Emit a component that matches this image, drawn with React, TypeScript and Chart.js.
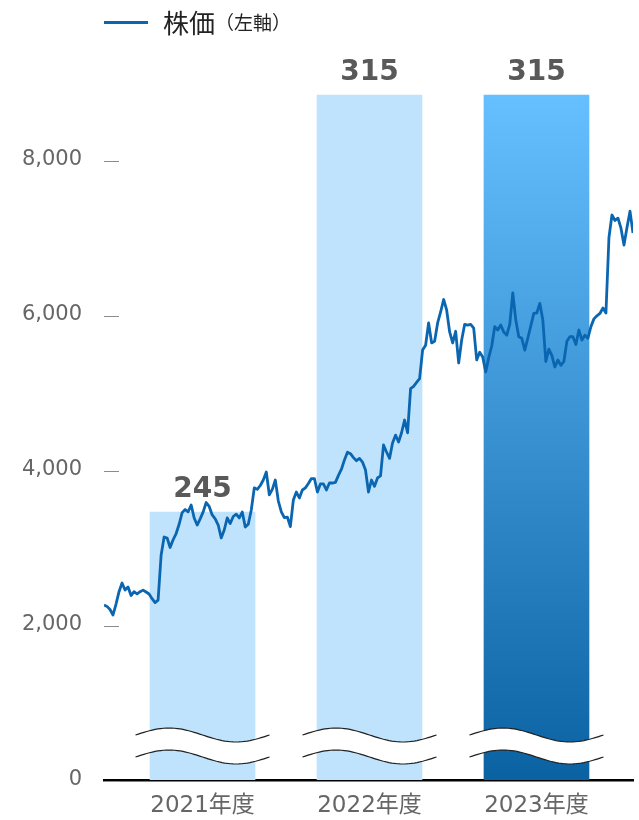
import React, { useEffect, useRef } from "react";
import { Chart, registerables } from "chart.js";

Chart.register(...registerables);

// ---------- data ----------
const fiscalYears = ["2021年度", "2022年度", "2023年度"];
const dividends = [245, 315, 315];
const priceTicks = [0, 2000, 4000, 6000, 8000];
const stockPrices = [
  2258, 2240, 2200, 2129, 2270, 2430, 2542, 2452, 2490, 2380,
  2430, 2400, 2430, 2450, 2426, 2400, 2340, 2290, 2320, 2900,
  3135, 3123, 3000, 3100, 3180, 3300, 3450, 3490, 3460, 3548,
  3381, 3290, 3370, 3460, 3580, 3530, 3420, 3370, 3290, 3123,
  3226, 3381, 3310, 3400, 3430, 3381, 3458, 3264, 3300, 3484,
  3770, 3750, 3800, 3871, 3974, 3680, 3750, 3871, 3600, 3460,
  3385, 3393, 3270, 3613, 3716, 3639, 3742, 3770, 3825, 3890,
  3890, 3716, 3820, 3820, 3742, 3832, 3832, 3840, 3930, 4010,
  4130, 4230, 4210, 4160, 4120, 4150, 4103, 4000, 3716, 3871,
  3790, 3897, 3925, 4323, 4232, 4150, 4348, 4450, 4361, 4480,
  4645, 4480, 5050, 5080, 5130, 5180, 5548, 5610, 5897, 5640,
  5660, 5897, 6039, 6200, 6065, 5781, 5639, 5790, 5381, 5677,
  5880, 5870, 5880, 5832, 5420, 5520, 5458, 5265, 5450, 5600,
  5850, 5806, 5871, 5780, 5740, 5880, 6284, 5935, 5720, 5700,
  5548, 5700, 5860, 6020, 6026, 6150, 5935, 5400, 5560, 5480,
  5329, 5420, 5350, 5400, 5660, 5720, 5720, 5620, 5806, 5677,
  5740, 5700, 5850, 5950, 5990, 6020, 6090, 6026, 7000, 7290,
  7220, 7250, 7120, 6903, 7130, 7340, 7058,
];

// ---------- style ----------
const LINE_COLOR = "#0a66b0";
const BAR_LIGHT = "#bfe3fc";
const GRAD_TOP = "#66bfff";
const GRAD_BOTTOM = "#0a62a3";
const FONT = "'DejaVu Sans', 'Noto Sans CJK JP', sans-serif";

const tickDashPlugin = {
  id: "tickDash",
  beforeDatasetsDraw(chart: any) {
    const { ctx, chartArea, scales } = chart;
    const y = scales.y;
    ctx.save();
    ctx.strokeStyle = "#8c8c8c";
    ctx.lineWidth = 1;
    y.ticks.forEach((t: any) => {
      const py = Math.round(y.getPixelForValue(t.value)) + 1.5;
      ctx.beginPath();
      ctx.moveTo(chartArea.left, py);
      ctx.lineTo(chartArea.left + 15, py);
      ctx.stroke();
    });
    ctx.restore();
  },
};

const barDecorPlugin = {
  id: "barDecor",
  afterDatasetDraw(chart: any, args: any) {
    if (args.index !== 0) return;
    const { ctx, chartArea } = chart;
    const meta = args.meta;
    const bottom = chartArea.bottom;
    meta.data.forEach((el: any, i: number) => {
      const { x, y, width } = el.getProps(["x", "y", "width"], true);
      // break symbol
      const w = width + 29;
      const left = x - w / 2;
      const c1 = bottom - 45;
      const c2 = bottom - 23;
      const amp = 7;
      const N = 48;
      const wave = (c: number, t: number) => c - amp * Math.sin(2 * Math.PI * t);
      ctx.save();
      ctx.beginPath();
      for (let k = 0; k <= N; k++) {
        const t = k / N;
        const px = left + t * w;
        const py = wave(c1, t);
        if (k === 0) ctx.moveTo(px, py);
        else ctx.lineTo(px, py);
      }
      for (let k = N; k >= 0; k--) {
        const t = k / N;
        ctx.lineTo(left + t * w, wave(c2, t));
      }
      ctx.closePath();
      ctx.fillStyle = "#ffffff";
      ctx.fill();
      ctx.strokeStyle = "#222";
      ctx.lineWidth = 1.2;
      [c1, c2].forEach((c) => {
        ctx.beginPath();
        for (let k = 0; k <= N; k++) {
          const t = k / N;
          const px = left + t * w;
          const py = wave(c, t);
          if (k === 0) ctx.moveTo(px, py);
          else ctx.lineTo(px, py);
        }
        ctx.stroke();
      });
      // value label
      ctx.fillStyle = "#595959";
      ctx.font = `bold 28px ${FONT}`;
      ctx.textAlign = "center";
      ctx.textBaseline = "alphabetic";
      ctx.fillText(String(dividends[i]), x, y - 15);
      ctx.restore();
    });
  },
};

export default function App() {
  const canvasRef = useRef<HTMLCanvasElement | null>(null);

  useEffect(() => {
    document.body.style.margin = "0";
    const canvas = canvasRef.current;
    if (!canvas) return;

    const chart = new Chart(canvas, {
      type: "bar",
      data: {
        datasets: [
          {
            type: "bar",
            label: "配当",
            data: dividends.map((v, i) => ({ x: i + 1, y: v })) as any,
            xAxisID: "x",
            yAxisID: "yr",
            barThickness: 105,
            grouped: false,
            order: 2,
            backgroundColor: (c: any) => {
              if (c.dataIndex !== 2) return BAR_LIGHT;
              const { chart: ch } = c;
              const area = ch.chartArea;
              if (!area) return GRAD_TOP;
              const top = ch.scales.yr.getPixelForValue(dividends[2]);
              const g = ch.ctx.createLinearGradient(0, top, 0, area.bottom);
              g.addColorStop(0, GRAD_TOP);
              g.addColorStop(1, GRAD_BOTTOM);
              return g;
            },
          } as any,
          {
            type: "line",
            label: "株価",
            data: stockPrices.map((v, i) => ({ x: i, y: v })) as any,
            xAxisID: "xl",
            yAxisID: "y",
            borderColor: LINE_COLOR,
            borderWidth: 2.8,
            pointRadius: 0,
            tension: 0,
            borderJoinStyle: "round",
            order: 1,
          } as any,
        ],
      },
      options: {
        animation: false,
        responsive: false,
        events: [],
        layout: { padding: { top: 82.5, right: 6, left: 0, bottom: 0 } },
        plugins: { legend: { display: false }, tooltip: { enabled: false } },
        scales: {
          x: {
            type: "linear",
            axis: "x",
            position: "bottom",
            offset: false,
            min: 0.41,
            max: 3.578,
            grid: { display: false, drawTicks: false, offset: false },
            border: { display: true, color: "#000", width: 2.5 },
            afterBuildTicks: (scale: any) => {
              scale.ticks = fiscalYears.map((_, i) => ({ value: i + 1 }));
            },
            afterFit: (scale: any) => {
              scale.height = 40;
            },
            ticks: {
              autoSkip: false,
              maxRotation: 0,
              padding: 12,
              color: "#666",
              font: { family: FONT, size: 23 },
              callback: (v: any) => fiscalYears[Math.round(Number(v)) - 1] ?? "",
            },
          } as any,
          xl: {
            type: "linear",
            axis: "x",
            position: "bottom",
            display: false,
            offset: false,
            grid: { offset: false },
            min: 0,
            max: stockPrices.length - 1,
          } as any,
          y: {
            type: "linear",
            axis: "y",
            position: "left",
            min: 0,
            max: 9000,
            grid: { display: false, drawTicks: false },
            border: { display: false },
            afterBuildTicks: (scale: any) => {
              scale.ticks = priceTicks.map((v) => ({ value: v }));
            },
            afterFit: (scale: any) => {
              scale.width = 104;
            },
            ticks: {
              padding: 22,
              color: "#666",
              font: { family: FONT, size: 21 },
              callback: (v: any) => Number(v).toLocaleString("en-US"),
            },
          } as any,
          yr: {
            type: "linear",
            axis: "y",
            position: "right",
            display: false,
            min: 200,
            max: 317.1,
          } as any,
        },
      },
      plugins: [tickDashPlugin, barDecorPlugin],
    });

    return () => chart.destroy();
  }, []);

  return (
    <div style={{ position: "relative", width: 639, height: 820, background: "#fff" }}>
      <canvas ref={canvasRef} width={639} height={820} style={{ display: "block", width: 639, height: 820 }} />
      <div
        style={{
          position: "absolute",
          left: 104,
          top: 6,
          height: 32,
          display: "flex",
          alignItems: "center",
          fontFamily: "'Noto Sans CJK JP', sans-serif",
          color: "#222",
          whiteSpace: "nowrap",
        }}
      >
        <span style={{ display: "inline-block", width: 44, height: 3, background: LINE_COLOR, marginRight: 15 }} />
        <span style={{ fontSize: 26, lineHeight: "32px" }}>株価</span>
        <span style={{ fontSize: 19, lineHeight: "32px" }}>（左軸）</span>
      </div>
    </div>
  );
}
